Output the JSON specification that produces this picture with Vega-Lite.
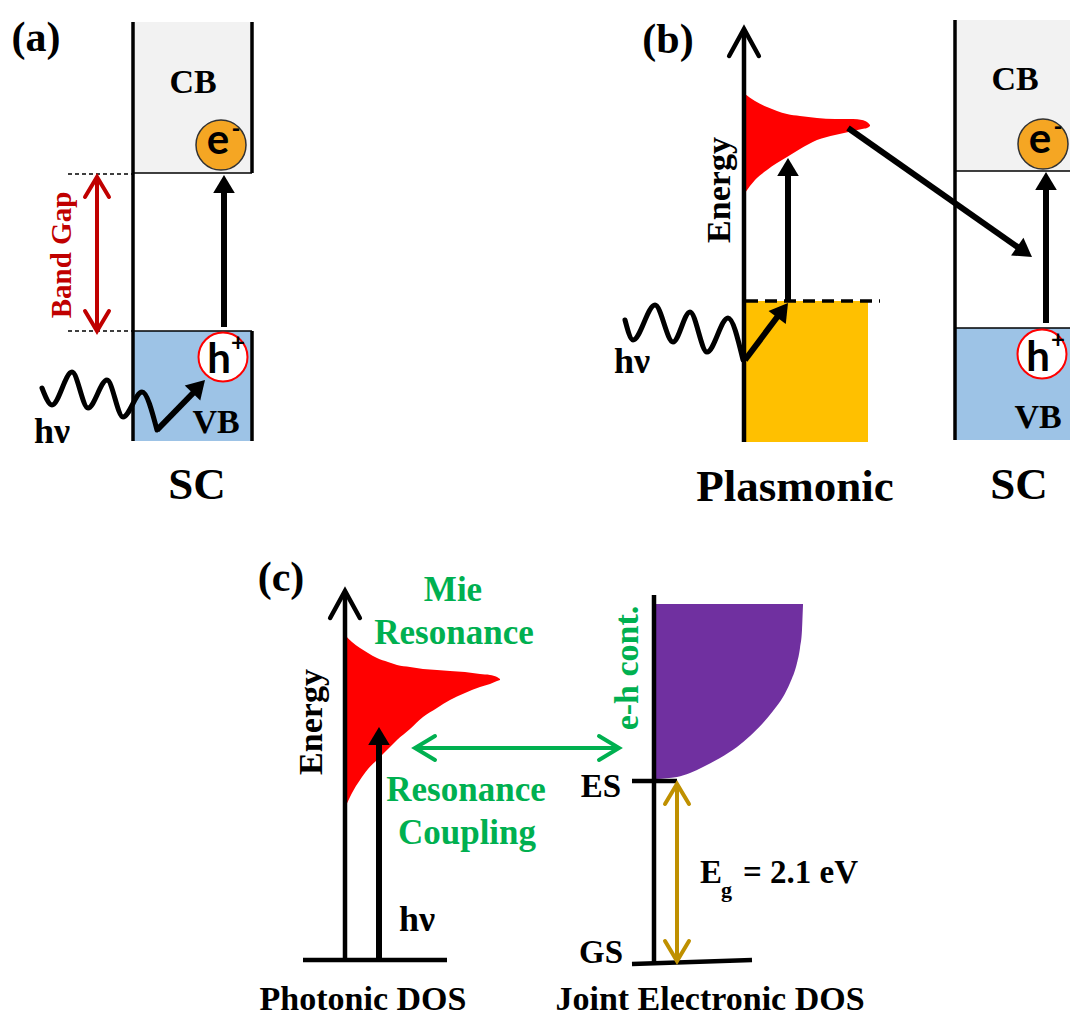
{
"$schema": "https://vega.github.io/schema/vega-lite/v6.json",
"width": 1070, "height": 1016, "padding": 0, "autosize": {"type": "none"},
"background": "white",
"config": {"view": {"stroke": null}, "text": {"font": "Liberation Serif", "fontWeight": "bold", "baseline": "middle", "align": "center", "color": "black"}},
"resolve": {"scale": {"color": "independent"}},
"datasets": {
"boxes": [
{"part": "CB", "x": 133, "x2": 252, "y": 22, "y2": 173},
{"part": "VB", "x": 133, "x2": 252, "y": 331, "y2": 441},
{"part": "metal", "x": 745, "x2": 868, "y": 301, "y2": 442},
{"part": "CB", "x": 955, "x2": 1070, "y": 20, "y2": 171},
{"part": "VB", "x": 955, "x2": 1070, "y": 328, "y2": 440}
],
"shapes": [
{"shape": "plasmon", "x": 745, "top": 94, "bottom": 193},
{"shape": "plasmon", "x": 755, "top": 101, "bottom": 180},
{"shape": "plasmon", "x": 767, "top": 107, "bottom": 170},
{"shape": "plasmon", "x": 777, "top": 111, "bottom": 163},
{"shape": "plasmon", "x": 787, "top": 114, "bottom": 157},
{"shape": "plasmon", "x": 800, "top": 116, "bottom": 149},
{"shape": "plasmon", "x": 817, "top": 118, "bottom": 140},
{"shape": "plasmon", "x": 835, "top": 119, "bottom": 135},
{"shape": "plasmon", "x": 853, "top": 119, "bottom": 131},
{"shape": "plasmon", "x": 862, "top": 120, "bottom": 129},
{"shape": "plasmon", "x": 867, "top": 122, "bottom": 128},
{"shape": "plasmon", "x": 870, "top": 125, "bottom": 126},
{"shape": "mie", "x": 345, "top": 635, "bottom": 808},
{"shape": "mie", "x": 352, "top": 642, "bottom": 793},
{"shape": "mie", "x": 360, "top": 648, "bottom": 780},
{"shape": "mie", "x": 368, "top": 653, "bottom": 769},
{"shape": "mie", "x": 377, "top": 658, "bottom": 760},
{"shape": "mie", "x": 388, "top": 662, "bottom": 749},
{"shape": "mie", "x": 397, "top": 665, "bottom": 740},
{"shape": "mie", "x": 410, "top": 667, "bottom": 729},
{"shape": "mie", "x": 423, "top": 669, "bottom": 717},
{"shape": "mie", "x": 437, "top": 670, "bottom": 708},
{"shape": "mie", "x": 450, "top": 671, "bottom": 700},
{"shape": "mie", "x": 465, "top": 672, "bottom": 693},
{"shape": "mie", "x": 480, "top": 674, "bottom": 687},
{"shape": "mie", "x": 490, "top": 675, "bottom": 684},
{"shape": "mie", "x": 497, "top": 677, "bottom": 681},
{"shape": "mie", "x": 500, "top": 679, "bottom": 680},
{"shape": "continuum", "x": 656, "top": 604, "bottom": 779},
{"shape": "continuum", "x": 677, "top": 604, "bottom": 777},
{"shape": "continuum", "x": 690, "top": 604, "bottom": 773},
{"shape": "continuum", "x": 703, "top": 604, "bottom": 767},
{"shape": "continuum", "x": 720, "top": 604, "bottom": 758},
{"shape": "continuum", "x": 737, "top": 604, "bottom": 747},
{"shape": "continuum", "x": 750, "top": 604, "bottom": 736},
{"shape": "continuum", "x": 763, "top": 604, "bottom": 723},
{"shape": "continuum", "x": 773, "top": 604, "bottom": 711},
{"shape": "continuum", "x": 783, "top": 604, "bottom": 697},
{"shape": "continuum", "x": 790, "top": 604, "bottom": 683},
{"shape": "continuum", "x": 797, "top": 604, "bottom": 663},
{"shape": "continuum", "x": 800, "top": 604, "bottom": 648},
{"shape": "continuum", "x": 802, "top": 604, "bottom": 630},
{"shape": "continuum", "x": 803, "top": 604, "bottom": 605}
],
"segments": [
{"kind": "frame", "x": 133, "y": 22, "x2": 133, "y2": 441},
{"kind": "frame", "x": 252, "y": 22, "x2": 252, "y2": 173},
{"kind": "frame", "x": 252, "y": 331, "x2": 252, "y2": 441},
{"kind": "frame", "x": 955, "y": 20, "x2": 955, "y2": 440},
{"kind": "edge", "x": 133, "y": 173, "x2": 252, "y2": 173},
{"kind": "edge", "x": 133, "y": 331, "x2": 252, "y2": 331},
{"kind": "edge", "x": 955, "y": 171, "x2": 1070, "y2": 171},
{"kind": "edge", "x": 955, "y": 328, "x2": 1070, "y2": 328},
{"kind": "guide", "x": 68, "y": 174, "x2": 133, "y2": 174},
{"kind": "guide", "x": 68, "y": 331, "x2": 133, "y2": 331},
{"kind": "fermi", "x": 746, "y": 301, "x2": 880, "y2": 301},
{"kind": "axis", "x": 744, "y": 30, "x2": 744, "y2": 442},
{"kind": "axis", "x": 345, "y": 592, "x2": 345, "y2": 960},
{"kind": "axis", "x": 654, "y": 595, "x2": 654, "y2": 963},
{"kind": "axis", "x": 303, "y": 960, "x2": 447, "y2": 960},
{"kind": "axis", "x": 632, "y": 781, "x2": 677, "y2": 781},
{"kind": "axis", "x": 632, "y": 964, "x2": 752, "y2": 960},
{"kind": "shaft", "x": 224, "y": 327, "x2": 224, "y2": 185},
{"kind": "shaft", "x": 788, "y": 301, "x2": 788, "y2": 170},
{"kind": "shaft", "x": 745, "y": 360, "x2": 781, "y2": 312},
{"kind": "shaft", "x": 848, "y": 128, "x2": 1019, "y2": 248},
{"kind": "shaft", "x": 1046, "y": 323, "x2": 1046, "y2": 184},
{"kind": "shaft", "x": 379, "y": 960, "x2": 379, "y2": 739},
{"kind": "shaft", "x": 157, "y": 430, "x2": 198, "y2": 388},
{"kind": "red", "x": 97, "y": 180, "x2": 97, "y2": 328},
{"kind": "green", "x": 418, "y": 748, "x2": 616, "y2": 748},
{"kind": "gold", "x": 677, "y": 787, "x2": 677, "y2": 958}
],
"waves": [
{"wave": "a", "x": 42, "y": 388}, {"wave": "a", "x": 52, "y": 405}, {"wave": "a", "x": 72, "y": 372},
{"wave": "a", "x": 88, "y": 408}, {"wave": "a", "x": 107, "y": 380}, {"wave": "a", "x": 123, "y": 417},
{"wave": "a", "x": 142, "y": 392}, {"wave": "a", "x": 157, "y": 430},
{"wave": "b", "x": 625, "y": 320}, {"wave": "b", "x": 633, "y": 340}, {"wave": "b", "x": 655, "y": 305},
{"wave": "b", "x": 673, "y": 342}, {"wave": "b", "x": 690, "y": 312}, {"wave": "b", "x": 707, "y": 352},
{"wave": "b", "x": 728, "y": 318}, {"wave": "b", "x": 743, "y": 360}
],
"circles": [
{"kind": "electron", "x": 221, "y": 145}, {"kind": "electron", "x": 1043, "y": 144},
{"kind": "hole", "x": 223, "y": 357}, {"kind": "hole", "x": 1042, "y": 354}
],
"heads": [
{"kind": "solid", "x": 224, "y": 175, "dir": 0},
{"kind": "solid", "x": 788, "y": 158, "dir": 0},
{"kind": "solid", "x": 788, "y": 303, "dir": 37},
{"kind": "solid", "x": 1032, "y": 257, "dir": 125},
{"kind": "solid", "x": 1046, "y": 172, "dir": 0},
{"kind": "solid", "x": 379, "y": 727, "dir": 0},
{"kind": "solid", "x": 205, "y": 380, "dir": 44},
{"kind": "red", "x": 97, "y": 177, "dir": 0},
{"kind": "red", "x": 97, "y": 331, "dir": 180},
{"kind": "green", "x": 415, "y": 748, "dir": 270},
{"kind": "green", "x": 619, "y": 748, "dir": 90},
{"kind": "gold", "x": 677, "y": 784, "dir": 0},
{"kind": "gold", "x": 677, "y": 961, "dir": 180},
{"kind": "axis", "x": 744, "y": 29, "dir": 0},
{"kind": "axis", "x": 345, "y": 591, "dir": 0}
],
"labels": [
{"role": "panel", "x": 36, "y": 38, "text": "(a)"},
{"role": "panel", "x": 668, "y": 40, "text": "(b)"},
{"role": "panel", "x": 281, "y": 578, "text": "(c)"},
{"role": "big", "x": 197, "y": 485, "text": "SC"},
{"role": "big", "x": 795, "y": 487, "text": "Plasmonic"},
{"role": "big", "x": 1019, "y": 485, "text": "SC"},
{"role": "band", "x": 193, "y": 83, "text": "CB"},
{"role": "band", "x": 216, "y": 423, "text": "VB"},
{"role": "band", "x": 1015, "y": 80, "text": "CB"},
{"role": "band", "x": 1038, "y": 418, "text": "VB"},
{"role": "energy", "x": 720, "y": 190, "text": "Energy"},
{"role": "energy", "x": 312, "y": 722, "text": "Energy"},
{"role": "hv", "x": 52, "y": 432, "text": "hν"},
{"role": "hv", "x": 632, "y": 362, "text": "hν"},
{"role": "hv", "x": 417, "y": 920, "text": "hν"},
{"role": "green", "x": 453, "y": 590, "text": "Mie"},
{"role": "green", "x": 454, "y": 633, "text": "Resonance"},
{"role": "green", "x": 466, "y": 790, "text": "Resonance"},
{"role": "green", "x": 467, "y": 833, "text": "Coupling"},
{"role": "greenrot", "x": 628, "y": 668, "text": "e-h cont."},
{"role": "redrot", "x": 62, "y": 255, "text": "Band Gap"},
{"role": "dos", "x": 363, "y": 1000, "text": "Photonic DOS"},
{"role": "dos", "x": 710, "y": 1000, "text": "Joint Electronic DOS"},
{"role": "level", "x": 601, "y": 787, "text": "ES"},
{"role": "level", "x": 601, "y": 953, "text": "GS"},
{"role": "eg", "x": 700, "y": 873, "text": "E"},
{"role": "eg", "x": 743, "y": 873, "text": "= 2.1 eV"},
{"role": "sub", "x": 721, "y": 890, "text": "g"},
{"role": "carrier", "x": 218, "y": 141, "text": "e"},
{"role": "carrier", "x": 1040, "y": 140, "text": "e"},
{"role": "carrier", "x": 219, "y": 360, "text": "h"},
{"role": "carrier", "x": 1038, "y": 358, "text": "h"},
{"role": "sup", "x": 236, "y": 130, "text": "-"},
{"role": "sup", "x": 1058, "y": 128, "text": "-"},
{"role": "sup", "x": 238, "y": 344, "text": "+"},
{"role": "sup", "x": 1058, "y": 341, "text": "+"}
]
},
"layer": [
{"data": {"name": "boxes"}, "mark": {"type": "rect"},
 "encoding": {
  "x": {"field": "x", "type": "quantitative", "scale": {"domain": [0, 1070], "nice": false, "zero": false}, "axis": null},
  "x2": {"field": "x2"},
  "y": {"field": "y", "type": "quantitative", "scale": {"domain": [0, 1016], "nice": false, "zero": false, "reverse": true}, "axis": null},
  "y2": {"field": "y2"},
  "color": {"field": "part", "type": "nominal", "scale": {"domain": ["CB", "VB", "metal"], "range": ["#f2f2f2", "#9dc3e6", "#ffc000"]}, "legend": null}}},
{"data": {"name": "shapes"}, "mark": {"type": "area", "interpolate": "monotone", "opacity": 1},
 "encoding": {
  "x": {"field": "x", "type": "quantitative", "scale": {"domain": [0, 1070], "nice": false, "zero": false}, "axis": null},
  "y": {"field": "top", "type": "quantitative", "stack": null, "scale": {"domain": [0, 1016], "nice": false, "zero": false, "reverse": true}, "axis": null},
  "y2": {"field": "bottom"},
  "color": {"field": "shape", "type": "nominal", "scale": {"domain": ["plasmon", "mie", "continuum"], "range": ["#ff0000", "#ff0000", "#7030a0"]}, "legend": null}}},
{"data": {"name": "segments"}, "transform": [{"filter": "datum.kind === 'frame'"}], "mark": {"type": "rule", "color": "black", "strokeWidth": 3.5},
 "encoding": {
  "x": {"field": "x", "type": "quantitative", "scale": {"domain": [0, 1070], "nice": false, "zero": false}, "axis": null},
  "x2": {"field": "x2"},
  "y": {"field": "y", "type": "quantitative", "scale": {"domain": [0, 1016], "nice": false, "zero": false, "reverse": true}, "axis": null},
  "y2": {"field": "y2"}}},
{"data": {"name": "segments"}, "transform": [{"filter": "datum.kind === 'edge'"}], "mark": {"type": "rule", "color": "black", "strokeWidth": 1.6},
 "encoding": {
  "x": {"field": "x", "type": "quantitative", "scale": {"domain": [0, 1070], "nice": false, "zero": false}, "axis": null},
  "x2": {"field": "x2"},
  "y": {"field": "y", "type": "quantitative", "scale": {"domain": [0, 1016], "nice": false, "zero": false, "reverse": true}, "axis": null},
  "y2": {"field": "y2"}}},
{"data": {"name": "segments"}, "transform": [{"filter": "datum.kind === 'guide'"}], "mark": {"type": "rule", "color": "black", "strokeWidth": 1.5, "strokeDash": [4, 3]},
 "encoding": {
  "x": {"field": "x", "type": "quantitative", "scale": {"domain": [0, 1070], "nice": false, "zero": false}, "axis": null},
  "x2": {"field": "x2"},
  "y": {"field": "y", "type": "quantitative", "scale": {"domain": [0, 1016], "nice": false, "zero": false, "reverse": true}, "axis": null},
  "y2": {"field": "y2"}}},
{"data": {"name": "segments"}, "transform": [{"filter": "datum.kind === 'fermi'"}], "mark": {"type": "rule", "color": "black", "strokeWidth": 3.5, "strokeDash": [12, 7]},
 "encoding": {
  "x": {"field": "x", "type": "quantitative", "scale": {"domain": [0, 1070], "nice": false, "zero": false}, "axis": null},
  "x2": {"field": "x2"},
  "y": {"field": "y", "type": "quantitative", "scale": {"domain": [0, 1016], "nice": false, "zero": false, "reverse": true}, "axis": null},
  "y2": {"field": "y2"}}},
{"data": {"name": "segments"}, "transform": [{"filter": "datum.kind === 'axis'"}], "mark": {"type": "rule", "color": "black", "strokeWidth": 4.5},
 "encoding": {
  "x": {"field": "x", "type": "quantitative", "scale": {"domain": [0, 1070], "nice": false, "zero": false}, "axis": null},
  "x2": {"field": "x2"},
  "y": {"field": "y", "type": "quantitative", "scale": {"domain": [0, 1016], "nice": false, "zero": false, "reverse": true}, "axis": null},
  "y2": {"field": "y2"}}},
{"data": {"name": "segments"}, "transform": [{"filter": "datum.kind === 'shaft'"}], "mark": {"type": "rule", "color": "black", "strokeWidth": 6},
 "encoding": {
  "x": {"field": "x", "type": "quantitative", "scale": {"domain": [0, 1070], "nice": false, "zero": false}, "axis": null},
  "x2": {"field": "x2"},
  "y": {"field": "y", "type": "quantitative", "scale": {"domain": [0, 1016], "nice": false, "zero": false, "reverse": true}, "axis": null},
  "y2": {"field": "y2"}}},
{"data": {"name": "segments"}, "transform": [{"filter": "datum.kind === 'red' || datum.kind === 'green' || datum.kind === 'gold'"}], "mark": {"type": "rule", "strokeWidth": 4},
 "encoding": {
  "x": {"field": "x", "type": "quantitative", "scale": {"domain": [0, 1070], "nice": false, "zero": false}, "axis": null},
  "x2": {"field": "x2"},
  "y": {"field": "y", "type": "quantitative", "scale": {"domain": [0, 1016], "nice": false, "zero": false, "reverse": true}, "axis": null},
  "y2": {"field": "y2"},
  "color": {"field": "kind", "type": "nominal", "scale": {"domain": ["red", "green", "gold"], "range": ["#c00000", "#00b050", "#bf9000"]}, "legend": null}}},
{"data": {"name": "waves"}, "mark": {"type": "line", "interpolate": "monotone", "strokeWidth": 5, "color": "black", "strokeCap": "round"},
 "encoding": {
  "x": {"field": "x", "type": "quantitative", "scale": {"domain": [0, 1070], "nice": false, "zero": false}, "axis": null},
  "y": {"field": "y", "type": "quantitative", "scale": {"domain": [0, 1016], "nice": false, "zero": false, "reverse": true}, "axis": null},
  "detail": {"field": "wave", "type": "nominal"}}},
{"data": {"name": "circles"}, "transform": [{"filter": "datum.kind === 'electron'"}], "mark": {"type": "point", "shape": "circle", "filled": true, "fill": "#f5a623", "stroke": "#333333", "strokeWidth": 1.5, "size": 2500, "opacity": 1},
 "encoding": {
  "x": {"field": "x", "type": "quantitative", "scale": {"domain": [0, 1070], "nice": false, "zero": false}, "axis": null},
  "y": {"field": "y", "type": "quantitative", "scale": {"domain": [0, 1016], "nice": false, "zero": false, "reverse": true}, "axis": null}}},
{"data": {"name": "circles"}, "transform": [{"filter": "datum.kind === 'hole'"}], "mark": {"type": "point", "shape": "circle", "filled": true, "fill": "white", "stroke": "#ff0000", "strokeWidth": 2, "size": 2400, "opacity": 1},
 "encoding": {
  "x": {"field": "x", "type": "quantitative", "scale": {"domain": [0, 1070], "nice": false, "zero": false}, "axis": null},
  "y": {"field": "y", "type": "quantitative", "scale": {"domain": [0, 1016], "nice": false, "zero": false, "reverse": true}, "axis": null}}},
{"data": {"name": "heads"}, "transform": [{"filter": "datum.kind === 'solid'"}], "mark": {"type": "point", "shape": "M 0 0 L 0.6 1 L -0.6 1 Z", "filled": true, "color": "black", "size": 1296, "opacity": 1},
 "encoding": {
  "x": {"field": "x", "type": "quantitative", "scale": {"domain": [0, 1070], "nice": false, "zero": false}, "axis": null},
  "y": {"field": "y", "type": "quantitative", "scale": {"domain": [0, 1016], "nice": false, "zero": false, "reverse": true}, "axis": null},
  "angle": {"field": "dir", "type": "quantitative", "scale": null}}},
{"data": {"name": "heads"}, "transform": [{"filter": "datum.kind === 'red' || datum.kind === 'green' || datum.kind === 'gold'"}], "mark": {"type": "point", "shape": "M -0.6 1 L 0 0 L 0.6 1", "filled": false, "strokeWidth": 4, "strokeCap": "round", "size": 1600, "opacity": 1},
 "encoding": {
  "x": {"field": "x", "type": "quantitative", "scale": {"domain": [0, 1070], "nice": false, "zero": false}, "axis": null},
  "y": {"field": "y", "type": "quantitative", "scale": {"domain": [0, 1016], "nice": false, "zero": false, "reverse": true}, "axis": null},
  "angle": {"field": "dir", "type": "quantitative", "scale": null},
  "color": {"field": "kind", "type": "nominal", "scale": {"domain": ["red", "green", "gold"], "range": ["#c00000", "#00b050", "#bf9000"]}, "legend": null}}},
{"data": {"name": "heads"}, "transform": [{"filter": "datum.kind === 'axis'"}], "mark": {"type": "point", "shape": "M -0.55 1 L 0 0 L 0.55 1", "filled": false, "color": "black", "strokeWidth": 4.5, "strokeCap": "round", "size": 2916, "opacity": 1},
 "encoding": {
  "x": {"field": "x", "type": "quantitative", "scale": {"domain": [0, 1070], "nice": false, "zero": false}, "axis": null},
  "y": {"field": "y", "type": "quantitative", "scale": {"domain": [0, 1016], "nice": false, "zero": false, "reverse": true}, "axis": null},
  "angle": {"field": "dir", "type": "quantitative", "scale": null}}},
{"data": {"name": "labels"}, "transform": [{"filter": "datum.role === 'panel'"}], "mark": {"type": "text", "fontSize": 42},
 "encoding": {
  "x": {"field": "x", "type": "quantitative", "scale": {"domain": [0, 1070], "nice": false, "zero": false}, "axis": null},
  "y": {"field": "y", "type": "quantitative", "scale": {"domain": [0, 1016], "nice": false, "zero": false, "reverse": true}, "axis": null},
  "text": {"field": "text"}}},
{"data": {"name": "labels"}, "transform": [{"filter": "datum.role === 'big'"}], "mark": {"type": "text", "fontSize": 45},
 "encoding": {
  "x": {"field": "x", "type": "quantitative", "scale": {"domain": [0, 1070], "nice": false, "zero": false}, "axis": null},
  "y": {"field": "y", "type": "quantitative", "scale": {"domain": [0, 1016], "nice": false, "zero": false, "reverse": true}, "axis": null},
  "text": {"field": "text"}}},
{"data": {"name": "labels"}, "transform": [{"filter": "datum.role === 'band'"}], "mark": {"type": "text", "fontSize": 34},
 "encoding": {
  "x": {"field": "x", "type": "quantitative", "scale": {"domain": [0, 1070], "nice": false, "zero": false}, "axis": null},
  "y": {"field": "y", "type": "quantitative", "scale": {"domain": [0, 1016], "nice": false, "zero": false, "reverse": true}, "axis": null},
  "text": {"field": "text"}}},
{"data": {"name": "labels"}, "transform": [{"filter": "datum.role === 'energy'"}], "mark": {"type": "text", "fontSize": 34, "angle": 270},
 "encoding": {
  "x": {"field": "x", "type": "quantitative", "scale": {"domain": [0, 1070], "nice": false, "zero": false}, "axis": null},
  "y": {"field": "y", "type": "quantitative", "scale": {"domain": [0, 1016], "nice": false, "zero": false, "reverse": true}, "axis": null},
  "text": {"field": "text"}}},
{"data": {"name": "labels"}, "transform": [{"filter": "datum.role === 'hv'"}], "mark": {"type": "text", "fontSize": 36},
 "encoding": {
  "x": {"field": "x", "type": "quantitative", "scale": {"domain": [0, 1070], "nice": false, "zero": false}, "axis": null},
  "y": {"field": "y", "type": "quantitative", "scale": {"domain": [0, 1016], "nice": false, "zero": false, "reverse": true}, "axis": null},
  "text": {"field": "text"}}},
{"data": {"name": "labels"}, "transform": [{"filter": "datum.role === 'green'"}], "mark": {"type": "text", "fontSize": 35, "color": "#00b050"},
 "encoding": {
  "x": {"field": "x", "type": "quantitative", "scale": {"domain": [0, 1070], "nice": false, "zero": false}, "axis": null},
  "y": {"field": "y", "type": "quantitative", "scale": {"domain": [0, 1016], "nice": false, "zero": false, "reverse": true}, "axis": null},
  "text": {"field": "text"}}},
{"data": {"name": "labels"}, "transform": [{"filter": "datum.role === 'greenrot'"}], "mark": {"type": "text", "fontSize": 34, "color": "#00b050", "angle": 270},
 "encoding": {
  "x": {"field": "x", "type": "quantitative", "scale": {"domain": [0, 1070], "nice": false, "zero": false}, "axis": null},
  "y": {"field": "y", "type": "quantitative", "scale": {"domain": [0, 1016], "nice": false, "zero": false, "reverse": true}, "axis": null},
  "text": {"field": "text"}}},
{"data": {"name": "labels"}, "transform": [{"filter": "datum.role === 'redrot'"}], "mark": {"type": "text", "fontSize": 29, "color": "#c00000", "angle": 270},
 "encoding": {
  "x": {"field": "x", "type": "quantitative", "scale": {"domain": [0, 1070], "nice": false, "zero": false}, "axis": null},
  "y": {"field": "y", "type": "quantitative", "scale": {"domain": [0, 1016], "nice": false, "zero": false, "reverse": true}, "axis": null},
  "text": {"field": "text"}}},
{"data": {"name": "labels"}, "transform": [{"filter": "datum.role === 'dos'"}], "mark": {"type": "text", "fontSize": 34},
 "encoding": {
  "x": {"field": "x", "type": "quantitative", "scale": {"domain": [0, 1070], "nice": false, "zero": false}, "axis": null},
  "y": {"field": "y", "type": "quantitative", "scale": {"domain": [0, 1016], "nice": false, "zero": false, "reverse": true}, "axis": null},
  "text": {"field": "text"}}},
{"data": {"name": "labels"}, "transform": [{"filter": "datum.role === 'level'"}], "mark": {"type": "text", "fontSize": 33},
 "encoding": {
  "x": {"field": "x", "type": "quantitative", "scale": {"domain": [0, 1070], "nice": false, "zero": false}, "axis": null},
  "y": {"field": "y", "type": "quantitative", "scale": {"domain": [0, 1016], "nice": false, "zero": false, "reverse": true}, "axis": null},
  "text": {"field": "text"}}},
{"data": {"name": "labels"}, "transform": [{"filter": "datum.role === 'eg'"}], "mark": {"type": "text", "fontSize": 33, "align": "left"},
 "encoding": {
  "x": {"field": "x", "type": "quantitative", "scale": {"domain": [0, 1070], "nice": false, "zero": false}, "axis": null},
  "y": {"field": "y", "type": "quantitative", "scale": {"domain": [0, 1016], "nice": false, "zero": false, "reverse": true}, "axis": null},
  "text": {"field": "text"}}},
{"data": {"name": "labels"}, "transform": [{"filter": "datum.role === 'sub'"}], "mark": {"type": "text", "fontSize": 22, "align": "left"},
 "encoding": {
  "x": {"field": "x", "type": "quantitative", "scale": {"domain": [0, 1070], "nice": false, "zero": false}, "axis": null},
  "y": {"field": "y", "type": "quantitative", "scale": {"domain": [0, 1016], "nice": false, "zero": false, "reverse": true}, "axis": null},
  "text": {"field": "text"}}},
{"data": {"name": "labels"}, "transform": [{"filter": "datum.role === 'carrier'"}], "mark": {"type": "text", "fontSize": 42, "font": "Lato"},
 "encoding": {
  "x": {"field": "x", "type": "quantitative", "scale": {"domain": [0, 1070], "nice": false, "zero": false}, "axis": null},
  "y": {"field": "y", "type": "quantitative", "scale": {"domain": [0, 1016], "nice": false, "zero": false, "reverse": true}, "axis": null},
  "text": {"field": "text"}}},
{"data": {"name": "labels"}, "transform": [{"filter": "datum.role === 'sup'"}], "mark": {"type": "text", "fontSize": 24, "font": "Lato"},
 "encoding": {
  "x": {"field": "x", "type": "quantitative", "scale": {"domain": [0, 1070], "nice": false, "zero": false}, "axis": null},
  "y": {"field": "y", "type": "quantitative", "scale": {"domain": [0, 1016], "nice": false, "zero": false, "reverse": true}, "axis": null},
  "text": {"field": "text"}}}
]
}
